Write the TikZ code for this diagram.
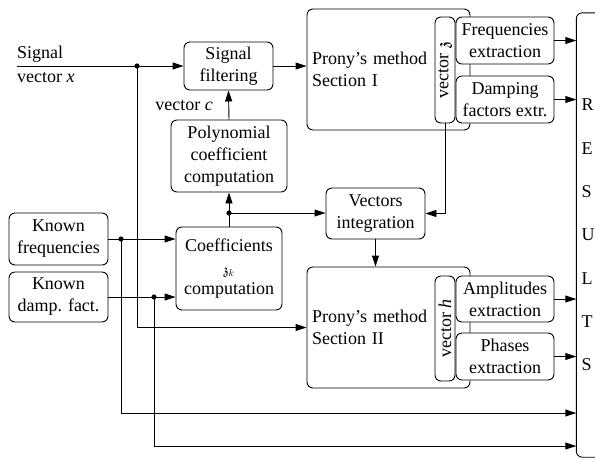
\documentclass[tikz,border=0pt]{standalone}
\usepackage{amssymb}
\usepackage{fontspec}
\setmainfont{Liberation Serif}
\usetikzlibrary{arrows.meta}
\tikzset{
  blk/.style={draw, line width=0.9pt, rounded corners=6pt, inner sep=0pt, align=center, fill=white},
  arr/.style={line width=0.9pt, -{Triangle[length=11pt,width=7pt]}},
  ln/.style={line width=0.9pt},
  dot/.style={fill=black},
  lbl/.style={inner sep=0pt},
}
\begin{document}
\begin{tikzpicture}[x=1pt,y=-1pt,font=\fontsize{18}{22}\selectfont]
\useasboundingbox (0,0) rectangle (595,459);

% blocks
\node[blk, minimum width=89pt, minimum height=48pt] (filt) at (228.5,66) {Signal\\filtering};
\node[blk, minimum width=116pt, minimum height=72pt] (poly) at (229,156) {Polynomial\\coefficient\\computation};
\node[blk, minimum width=106pt, minimum height=83pt] (coef) at (229,268.5) {Coefficients\\[1pt]{\fontsize{14}{16}\selectfont$\mathfrak{z}_k$}\\[-2pt]computation};
\node[blk, minimum width=99pt, minimum height=51pt] (vint) at (375.5,213.5) {Vectors\\integration};
\node[blk, minimum width=99pt, minimum height=52pt] (kf) at (58.5,239) {Known\\frequencies};
\node[blk, minimum width=99pt, minimum height=50pt] (kd) at (58.5,297) {Known\\damp. fact.};

\node[blk, minimum width=163pt, minimum height=121pt, text width=153pt, inner xsep=5pt, align=left] (p1) at (388.5,69.5) {Prony’s method\\Section I};
\node[blk, minimum width=163pt, minimum height=121pt, text width=153pt, inner xsep=5pt, align=left] (p2) at (388.5,327.5) {Prony’s method\\Section II};

\node[blk, rotate=90, minimum width=106pt, minimum height=20pt] (vz) at (445,70) {vector $\mathfrak{z}$};
\node[blk, rotate=90, minimum width=105pt, minimum height=20pt] (vh) at (445,328.5) {vector \textit{h}};

\node[blk, minimum width=98pt, minimum height=47pt] (freq) at (505,40.5) {Frequencies\\extraction};
\node[blk, minimum width=98pt, minimum height=47pt] (damp) at (505,99.5) {Damping\\factors extr.};
\node[blk, minimum width=98pt, minimum height=46pt] (amp) at (505,299) {Amplitudes\\extraction};
\node[blk, minimum width=98pt, minimum height=47pt] (ph) at (505,356.5) {Phases\\extraction};

% results column (its right side runs past the picture's edge)
\node[inner sep=0pt, minimum width=16pt, minimum height=444pt, text width=11pt, inner xsep=5pt, align=left, font=\fontsize{18}{43.3}\selectfont] (res) at (587,235) {R\\E\\S\\U\\L\\T\\S};
\draw[ln, rounded corners=6pt] ([xshift=10pt]res.north east) -- (res.north west) -- (res.south west) -- ([xshift=10pt]res.south east);

% labels
\node[lbl, anchor=base west] (sig1) at (17,58) {Signal};
\node[lbl, anchor=base west] (sig2) at (17,82) {vector \textit{x}};
\node[lbl, anchor=base east] (vc) at (213,110) {vector \textit{c}};

% coordinates
\coordinate (sigin) at (17,66);
\coordinate (j0) at (137,66);
\coordinate (j1) at (229,213);
\coordinate (jf) at (121,239);
\coordinate (jd) at (154,297);

% connectors
\draw[arr] (sigin) -- (filt.west);
\draw[arr] (filt.east) -- (filt.east -| p1.west);
\draw[arr] (poly.north) -- (filt.south);
\draw[ln] (coef.north) -- (j1);
\draw[arr] (j1) -- (poly.south);
\draw[arr] (j1) -- (j1 -| vint.west);
\draw[arr] (vz.west) |- (vint.east);
\draw[arr] (vint.south) -- (vint.south |- p2.north);
\draw[arr] (j0) |- (p2.west);
\draw[arr] (kf.east) -- (kf.east -| coef.west);
\draw[arr] (kd.east) -- (kd.east -| coef.west);
\draw[arr] (jf) |- (res.west |- 0,413);
\draw[arr] (jd) |- (res.west |- 0,446);
\draw[arr] (freq.east) -- (freq.east -| res.west);
\draw[arr] (damp.east) -- (damp.east -| res.west);
\draw[arr] (amp.east) -- (amp.east -| res.west);
\draw[arr] (ph.east) -- (ph.east -| res.west);

\fill[dot] (j0) circle (2.6pt);
\fill[dot] (j1) circle (2.6pt);
\fill[dot] (jf) circle (2.6pt);
\fill[dot] (jd) circle (2.6pt);
\end{tikzpicture}
\end{document}
